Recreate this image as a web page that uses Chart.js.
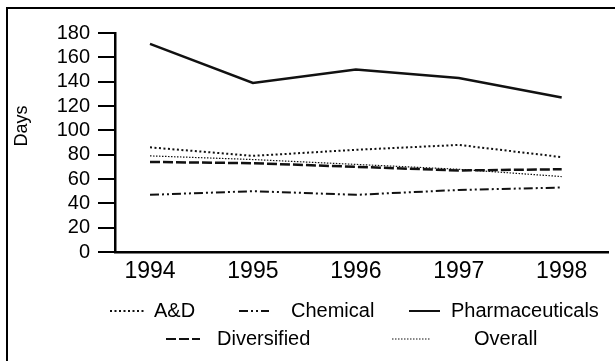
<!DOCTYPE html>
<html>
<head>
<meta charset="utf-8">
<script src="https://cdn.jsdelivr.net/npm/chart.js@4"></script>
<style>
    body { margin: 0; background: #fff; }
    #wrap { position: relative; width: 615px; height: 361px; }
    #frame {
        position: absolute; left: 6px; top: 7px; right: 0; bottom: 0;
        border-left: 2px solid #000; border-top: 2px solid #000;
        pointer-events: none;
    }
    canvas { position: absolute; left: 0; top: 0; }
</style>
</head>
<body>
<div id="wrap">
    <canvas id="chart" width="615" height="361"></canvas>
    <div id="frame"></div>
</div>
<script>
// Data
const years = [1994, 1995, 1996, 1997, 1998];
const aAndD = [86, 79, 84, 88, 78];
const chemical = [47, 50, 47, 51, 53];
const pharmaceuticals = [171, 139, 150, 143, 127];
const diversified = [74, 73, 70, 67, 68];
const overall = [79, 76, 72, 68, 62];
const yAxisTitle = "Days";

const FONT = "'Liberation Sans', Arial, Helvetica, sans-serif";

function toPoints(values) {
    return years.map((yr, i) => ({ x: yr, y: values[i] }));
}

function lineSet(label, values, width, dash) {
    return {
        label: label,
        data: toPoints(values),
        borderColor: "#111",
        borderWidth: width,
        borderDash: dash,
        pointRadius: 0,
        tension: 0,
        fill: false,
    };
}

// Legend laid out like the original (two centred rows)
const legendSpots = [
    { label: "A&D", x0: 110, x1: 146, tx: 154, y: 311 },
    { label: "Chemical", x0: 239, x1: 269, tx: 291, y: 311 },
    { label: "Pharmaceuticals", x0: 409, x1: 440, tx: 451, y: 311 },
    { label: "Diversified", x0: 166, x1: 200, tx: 217, y: 339 },
    { label: "Overall", x0: 392, x1: 431, tx: 474, y: 339 },
];

const extrasPlugin = {
    id: "extras",
    afterDraw(chart) {
        const ctx = chart.ctx;
        ctx.save();
        // y axis title
        ctx.fillStyle = "#000";
        ctx.font = "18px " + FONT;
        ctx.textAlign = "center";
        ctx.textBaseline = "middle";
        ctx.translate(22, 126);
        ctx.rotate(-Math.PI / 2);
        ctx.fillText(yAxisTitle, 0, 0);
        ctx.restore();

        // legend
        legendSpots.forEach((spot) => {
            const ds = chart.data.datasets.find((d) => d.label === spot.label);
            ctx.save();
            ctx.strokeStyle = ds.borderColor;
            ctx.lineWidth = Math.min(ds.borderWidth, 2);
            ctx.setLineDash(ds.borderDash || []);
            ctx.beginPath();
            ctx.moveTo(spot.x0, spot.y);
            ctx.lineTo(spot.x1, spot.y);
            ctx.stroke();
            ctx.setLineDash([]);
            ctx.fillStyle = "#000";
            ctx.font = "20px " + FONT;
            ctx.textAlign = "left";
            ctx.textBaseline = "middle";
            ctx.fillText(spot.label, spot.tx, spot.y);
            ctx.restore();
        });
    },
};

new Chart(document.getElementById("chart").getContext("2d"), {
    type: "line",
    data: {
        datasets: [
            lineSet("A&D", aAndD, 2, [2, 2.5]),
            lineSet("Chemical", chemical, 2, [9, 3, 2, 3, 2, 3]),
            lineSet("Pharmaceuticals", pharmaceuticals, 2.5, []),
            lineSet("Diversified", diversified, 2.5, [10, 3]),
            lineSet("Overall", overall, 1.2, [1.5, 1.5]),
        ],
    },
    options: {
        responsive: false,
        animation: false,
        layout: { padding: { top: 33, right: 7, bottom: 0, left: 0 } },
        plugins: {
            legend: { display: false },
            tooltip: { enabled: false },
        },
        scales: {
            x: {
                type: "linear",
                min: 1993.66,
                max: 1998.45,
                afterFit: (scale) => { scale.height = 109; },
                grid: { display: false, drawTicks: false },
                border: { color: "#000", width: 2.5 },
                ticks: {
                    stepSize: 1,
                    includeBounds: false,
                    color: "#000",
                    padding: 6,
                    font: { family: FONT, size: 23 },
                    callback: (v) => String(v),
                },
            },
            y: {
                min: 0,
                max: 180,
                afterFit: (scale) => { scale.width = 115; },
                grid: {
                    drawOnChartArea: false,
                    drawTicks: true,
                    tickLength: 17,
                    color: "#000",
                    lineWidth: 2,
                },
                border: { color: "#000", width: 2.5 },
                ticks: {
                    stepSize: 20,
                    autoSkip: false,
                    color: "#000",
                    padding: 8,
                    font: { family: FONT, size: 20 },
                },
            },
        },
    },
    plugins: [extrasPlugin],
});
</script>
</body>
</html>
